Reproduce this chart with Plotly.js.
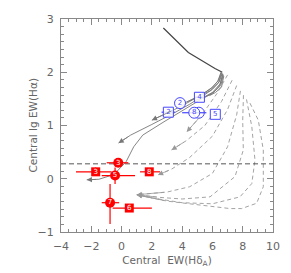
<!DOCTYPE html>
<html><head><meta charset="utf-8">
<script src="https://cdn.plot.ly/plotly-3.0.1.min.js"></script>
<style>html,body{margin:0;padding:0;background:#fff}#c{width:291px;height:273px}</style>
</head><body><div id="c"></div>
<script>
// Model tracks (x = EW(Hδ_A), y = lg EW(Hα))
const topTrackX = [2.76, 4.41, 6.17, 6.5, 6.65];
const topTrackY = [2.83, 2.37, 2.07, 2.03, 2.0];

const solidTracks = [
  {x:[6.6, 6.4, 6.0, 5.5, 4.5, 3.5, 2.0], y:[2.0, 1.85, 1.72, 1.62, 1.45, 1.30, 1.10]},
  {x:[6.65, 6.45, 6.0, 5.5, 4.5, 3.5, 2.0, 0.6, -0.2], y:[1.98, 1.82, 1.68, 1.58, 1.40, 1.24, 1.02, 0.82, 0.67]},
  {x:[6.7, 6.5, 6.0, 5.0, 4.0, 2.8, 1.4, 0.8, 0.3, -0.5, -1.5, -2.3], y:[1.96, 1.78, 1.62, 1.45, 1.27, 1.07, 0.82, 0.60, 0.32, 0.08, -0.01, -0.02]},
  {x:[6.62, 6.4, 5.9, 5.2, 4.4], y:[1.99, 1.80, 1.66, 1.56, 1.45]},
  {x:[6.68, 6.5, 6.0, 5.3], y:[1.97, 1.76, 1.60, 1.50]},
  {x:[6.58, 6.35, 5.95, 5.4, 4.8, 4.2], y:[2.01, 1.83, 1.70, 1.60, 1.51, 1.43]},
  {x:[6.72, 6.55, 6.1, 5.6, 5.0], y:[1.95, 1.75, 1.63, 1.55, 1.47]},
  {x:[6.75, 6.6, 6.2, 5.8], y:[1.93, 1.72, 1.62, 1.56]}
];

const dashedTracks = [
  {x:[7.0, 6.3, 5.3, 4.3], y:[1.95, 1.6, 1.2, 0.88]},
  {x:[7.3, 6.6, 5.5, 4.3, 3.3], y:[1.85, 1.45, 1.0, 0.72, 0.54]},
  {x:[7.6, 7.0, 6.0, 4.5, 3.3, 2.4], y:[1.75, 1.3, 0.8, 0.4, 0.18, 0.07]},
  {x:[7.85, 7.6, 7.0, 6.0, 4.5, 3.0, 1.0], y:[1.65, 1.2, 0.6, 0.1, -0.15, -0.25, -0.3]},
  {x:[8.05, 8.0, 8.04, 7.49, 5.84, 4.0, 2.5, 1.0], y:[1.57, 1.1, 0.54, 0.04, -0.34, -0.38, -0.35, -0.3]},
  {x:[8.25, 8.6, 8.81, 8.6, 7.82, 6.0, 4.0, 2.0, 1.0], y:[1.49, 0.98, 0.35, -0.09, -0.34, -0.47, -0.45, -0.36, -0.3]},
  {x:[8.48, 9.03, 9.36, 9.36, 8.92, 7.93, 7.16, 5.5, 3.0, 1.0], y:[1.42, 1.10, 0.54, -0.15, -0.46, -0.56, -0.56, -0.5, -0.42, -0.3]}
];

// Observations
const blueCircX = [3.86, 4.8];
const blueCircY = [1.42, 1.24];
const blueCircErrX = [0, 0.8];
const blueCircLbl = ["2", "8"];
const blueBackCircX = [5.1];
const blueBackCircY = [1.24];

const blueSqX = [5.14, 3.09, 6.19];
const blueSqY = [1.53, 1.25, 1.21];
const blueSqErrX = [0.3, 0.45, 0];
const blueSqLbl = ["4", "2", "5"];

const redCircX = [-0.22, -0.43, -0.76];
const redCircY = [0.30, 0.06, -0.45];
const redCircErrXp = [0.67, 1.32, 0.6];
const redCircErrXm = [0.76, 0.88, 0.55];
const redCircErrYp = [0.05, 0.15, 0.35];
const redCircErrYm = [0.05, 0.16, 0.40];
const redCircLbl = ["3", "5", "7"];

const redSqX = [-1.71, 1.83, 0.51];
const redSqY = [0.13, 0.13, -0.55];
const redSqErrXp = [1.05, 0.71, 1.49];
const redSqErrXm = [1.3, 0.61, 1.1];
const redSqErrY = [0.08, 0, 0];
const redSqLbl = ["3", "8", "6"];

const cutY = 0.28;
const xTitle = 'Central  EW(Hδ<sub>A</sub>)';
const yTitle = 'Central lg EW(Hα)';

const traces = [];
const annotations = [];
const gridCol = '#888';
function addArrow(t, color) {
  const n = t.x.length;
  annotations.push({x:t.x[n-1], y:t.y[n-1], ax:t.x[n-2], ay:t.y[n-2], xref:'x', yref:'y', axref:'x', ayref:'y',
    showarrow:true, arrowhead:2, arrowsize:1.3, arrowwidth:0.8, arrowcolor:color});
}
traces.push({x:topTrackX, y:topTrackY, mode:'lines', line:{color:'#444', width:1.2}, hoverinfo:'skip'});
solidTracks.forEach(t => { traces.push({x:t.x, y:t.y, mode:'lines', line:{color:'#777', width:0.9}, hoverinfo:'skip'}); });
[0,1,2].forEach(i => addArrow(solidTracks[i], '#777'));
dashedTracks.forEach(t => { traces.push({x:t.x, y:t.y, mode:'lines', line:{color:'#999', width:0.9, dash:'4px,3px'}, hoverinfo:'skip'}); addArrow(t, '#999'); });
traces.push({x:[-4, 10], y:[cutY, cutY], mode:'lines', line:{color:'#555', width:1, dash:'5px,3px'}, hoverinfo:'skip'});

const blue = 'rgb(70,70,255)', red = 'rgb(255,0,0)';
traces.push({x:blueBackCircX, y:blueBackCircY, mode:'markers',
  marker:{symbol:'circle', size:11, color:'rgba(255,255,255,0.85)', line:{color:blue, width:1}}});
traces.push({x:blueCircX, y:blueCircY, mode:'markers+text', text:blueCircLbl, textposition:'middle center',
  textfont:{color:blue, size:7, family:'DejaVu Sans'},
  error_x:{type:'data', array:blueCircErrX, color:blue, thickness:1.2, width:0},
  marker:{symbol:'circle', size:11, color:'rgba(255,255,255,0.85)', line:{color:blue, width:1}}});
traces.push({x:blueSqX, y:blueSqY, mode:'markers+text', text:blueSqLbl, textposition:'middle center',
  textfont:{color:blue, size:7, family:'DejaVu Sans'},
  error_x:{type:'data', array:blueSqErrX, color:blue, thickness:1.2, width:0},
  marker:{symbol:'square', size:10, color:'rgba(255,255,255,0.85)', line:{color:blue, width:1}}});
traces.push({x:redSqX, y:redSqY, mode:'markers+text', text:redSqLbl, textposition:'middle center',
  textfont:{color:'white', size:7, family:'DejaVu Sans'},
  error_x:{type:'data', array:redSqErrXp, arrayminus:redSqErrXm, color:red, thickness:1.2, width:0},
  error_y:{type:'data', array:redSqErrY, color:red, thickness:1.2, width:0},
  marker:{symbol:'square', size:9, color:red, line:{width:0}}});
traces.push({x:redCircX, y:redCircY, mode:'markers+text', text:redCircLbl, textposition:'middle center',
  textfont:{color:'white', size:7, family:'DejaVu Sans'},
  error_x:{type:'data', array:redCircErrXp, arrayminus:redCircErrXm, color:red, thickness:1.2, width:0},
  error_y:{type:'data', array:redCircErrYp, arrayminus:redCircErrYm, color:red, thickness:1.2, width:0},
  marker:{symbol:'circle', size:10, color:red, line:{width:0}}});

const tickFont = {family:'DejaVu Sans', size:11, color:'#666'};
const titleFont = {family:'DejaVu Sans', size:10.5, color:'#666'};
annotations.push({text:yTitle, xref:'paper', yref:'paper', x:0, y:0.5, xanchor:'center', yanchor:'middle',
  xshift:-29, textangle:-90, showarrow:false, font:titleFont});
const layout = {
  width:291, height:273, showlegend:false,
  margin:{l:61, r:18, t:19, b:41},
  paper_bgcolor:'#fff', plot_bgcolor:'#fff',
  xaxis:{range:[-4,10], dtick:2, tick0:-4, showgrid:false, zeroline:false, showline:true, mirror:'ticks',
    linecolor:gridCol, linewidth:1, ticks:'inside', ticklen:6, tickcolor:gridCol, ticklabelstandoff:4,
    minor:{dtick:0.5, ticks:'inside', ticklen:3, tickcolor:gridCol},
    tickfont:tickFont, title:{text:xTitle, font:titleFont, standoff:4}},
  yaxis:{range:[-1,3], dtick:1, showgrid:false, zeroline:false, showline:true, mirror:'ticks',
    linecolor:gridCol, linewidth:1, ticks:'inside', ticklen:6, tickcolor:gridCol, ticklabelstandoff:4,
    minor:{dtick:1/7, ticks:'inside', ticklen:3, tickcolor:gridCol},
    tickfont:tickFont},
  annotations:annotations
};
Plotly.newPlot('c', traces, layout, {staticPlot:true, displayModeBar:false});
</script></body></html>
